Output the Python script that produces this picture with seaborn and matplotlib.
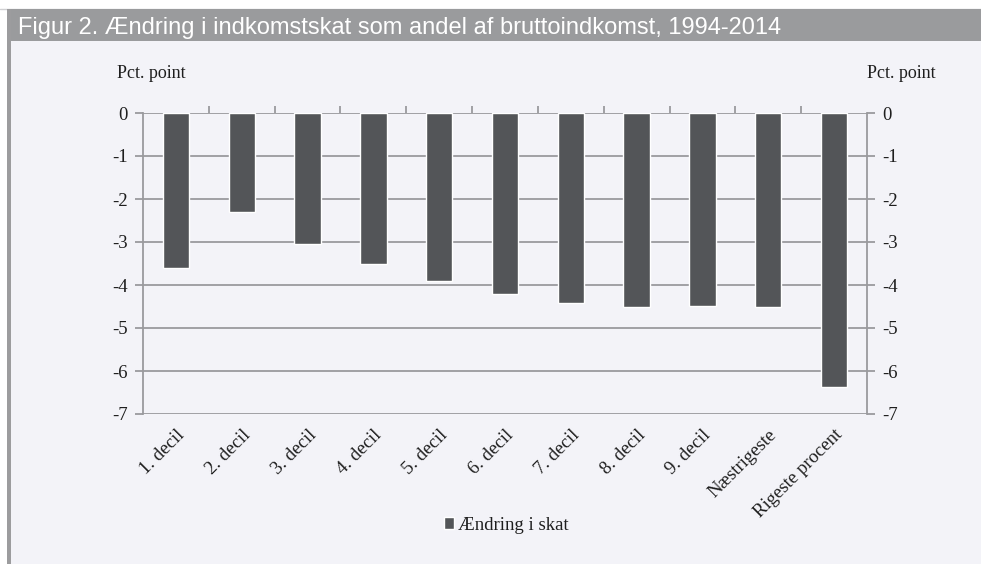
import matplotlib
matplotlib.use("Agg")
import matplotlib.pyplot as plt
import seaborn as sns
import pandas as pd
import numpy as np
from matplotlib.patches import Rectangle

categories = ["1. decil", "2. decil", "3. decil", "4. decil", "5. decil",
              "6. decil", "7. decil", "8. decil", "9. decil",
              "Næstrigeste", "Rigeste procent"]
changes = [-3.6, -2.3, -3.05, -3.5, -3.91, -4.2, -4.42, -4.51, -4.48, -4.5, -6.38]
series_name = "Ændring i skat"
yticks = [0, -1, -2, -3, -4, -5, -6, -7]
title = "Figur 2. Ændring i indkomstskat som andel af bruttoindkomst, 1994-2014"
unit = "Pct. point"

bg = "#f3f3f8"
bar_color = "#535558"
grid_color = "#9a9a9e"
header_color = "#9a9b9d"
text_color = "#1e1e1e"

sns.set_theme(style="white")
plt.rcParams["font.family"] = ["Liberation Serif", "DejaVu Serif"]

fig = plt.figure(figsize=(9.81, 5.64), dpi=100)
fig.patch.set_facecolor("white")

W, H = 981, 564
# panel background, header strip and left rule
fig.patches.append(Rectangle((10 / W, 0), 1 - 10 / W, 1 - 9 / H, transform=fig.transFigure,
                             facecolor=bg, edgecolor="none", zorder=-10))
fig.patches.append(Rectangle((10 / W, 1 - 41 / H), 1 - 10 / W, 32 / H, transform=fig.transFigure,
                             facecolor=header_color, edgecolor="none", zorder=-9))
fig.patches.append(Rectangle((7 / W, 0), 3.5 / W, 1 - 9 / H, transform=fig.transFigure,
                             facecolor="#9c9c9e", edgecolor="none", zorder=-9))
fig.lines.append(plt.Line2D([0, 1], [1 - 8.5 / H, 1 - 8.5 / H], transform=fig.transFigure,
                            color="#d0d0d2", lw=1, zorder=-9))
fig.text(18 / W, 1 - 34 / H, title, color="white", fontsize=17,
         family=["Liberation Sans", "DejaVu Sans"], va="baseline", ha="left", zorder=2)

ax = fig.add_axes([143 / W, 1 - 414 / H, (867 - 143) / W, (414 - 113) / H])
ax.set_zorder(5)
ax.set_facecolor(bg)

df = pd.DataFrame({"kategori": categories, "vaerdi": changes})
sns.barplot(data=df, x="kategori", y="vaerdi", color=bar_color, width=0.4,
            saturation=1, ax=ax, zorder=3, label=series_name)

ax.set_ylim(-7, 0)
ax.set_xlim(-0.5, len(categories) - 0.5)
ax.set_yticks(yticks)
ax.set_yticklabels([str(t) for t in yticks])
for t in yticks:
    ax.axhline(t, color=grid_color, lw=1.3, zorder=1)

for side in ["top", "bottom"]:
    ax.spines[side].set_visible(False)
for side in ["left", "right"]:
    ax.spines[side].set_visible(True)
    ax.spines[side].set_color(grid_color)
    ax.spines[side].set_linewidth(1.3)

ax.tick_params(axis="y", which="major", left=True, right=True, labelleft=True, labelright=True,
               direction="out", length=6, width=1.3, color=grid_color,
               labelsize=13.5, labelcolor=text_color, pad=5)

# category labels below the bottom gridline, boundary ticks along the zero line
ax.set_xticks(range(len(categories)))
ax.set_xticklabels(categories, rotation=45, ha="right", rotation_mode="anchor",
                   fontsize=13.5, color=text_color)
ax.tick_params(axis="x", which="major", length=0, pad=9)
ax.set_xticks(np.arange(0.5, len(categories) - 0.5, 1), minor=True)
ax.tick_params(axis="x", which="minor", bottom=False, top=True, direction="out",
               length=5, width=1.3, color=grid_color)
ax.set_xlabel("")
ax.set_ylabel("")

fig.text(151 / W, 1 - 74 / H, unit, fontsize=13, ha="center", va="center", color=text_color)
fig.text(901 / W, 1 - 74 / H, unit, fontsize=13, ha="center", va="center", color=text_color)

leg = ax.legend(loc="center", bbox_to_anchor=(506 / W, 1 - 525 / H),
                bbox_transform=fig.transFigure, frameon=False, fontsize=13.5,
                handlelength=0.55, handleheight=0.55, handletextpad=0.2)
for txt in leg.get_texts():
    txt.set_color(text_color)

fig.savefig("out.png", dpi=100, facecolor=fig.get_facecolor())
